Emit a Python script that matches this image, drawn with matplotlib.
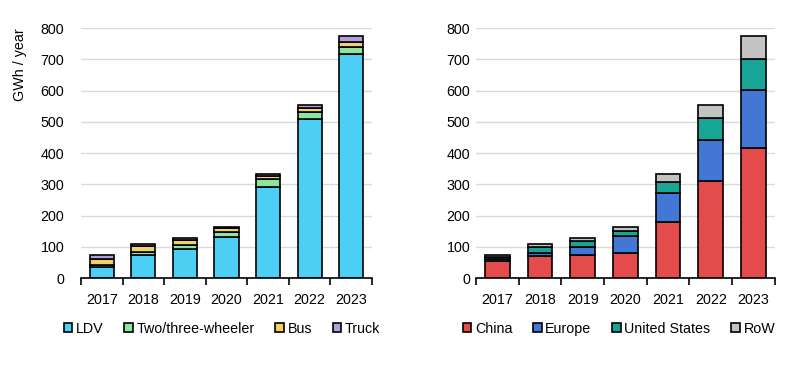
import matplotlib.pyplot as plt
import numpy as np

plt.rcParams['font.family'] = ['Liberation Sans', 'DejaVu Sans']

years = ["2017", "2018", "2019", "2020", "2021", "2022", "2023"]

# left panel: by vehicle segment (GWh / year)
ldv = [36, 73, 94, 130, 292, 510, 717]
two_three = [6, 9, 13, 16, 25, 22, 22]
bus = [18, 20, 16, 13, 10, 12, 16]
truck = [15, 8, 5, 5, 5, 10, 18]

# right panel: by region (GWh / year)
china = [54, 70, 75, 80, 178, 312, 417]
europe = [8, 10, 24, 54, 93, 130, 185]
united_states = [6, 19, 20, 16, 35, 71, 98]
row = [7, 11, 9, 14, 26, 41, 73]

left_series = [("LDV", ldv, "#4dcff5"),
               ("Two/three-wheeler", two_three, "#8de5a0"),
               ("Bus", bus, "#f3d167"),
               ("Truck", truck, "#b39fe0")]
right_series = [("China", china, "#e44b4b"),
                ("Europe", europe, "#4277d6"),
                ("United States", united_states, "#17a596"),
                ("RoW", row, "#c3c3c3")]

fig = plt.figure(figsize=(8.08, 3.70), dpi=100)
ax1 = fig.add_axes([0.1002, 0.2486, 0.3602, 0.6757])
ax2 = fig.add_axes([0.589, 0.2486, 0.370, 0.6757])

x = np.arange(len(years))
fs = 10.3


def draw(ax, series, pad):
    bottom = np.zeros(len(years))
    handles = []
    for name, vals, col in series:
        h = ax.bar(x, vals, 0.58, bottom=bottom, color=col,
                   edgecolor="black", linewidth=1.2, label=name, zorder=3)
        bottom += np.array(vals)
        handles.append(h)
    ax.set_ylim(0, 800)
    ax.set_xlim(-0.5, len(years) - 0.5)
    ax.set_yticks(range(0, 801, 100))
    ax.yaxis.grid(True, color="#d9d9d9", linewidth=1.0, zorder=0)
    ax.set_axisbelow(True)
    for s in ["left", "right", "top"]:
        ax.spines[s].set_visible(False)
    ax.spines["bottom"].set_linewidth(1.2)
    ax.spines["bottom"].set_zorder(4)
    ax.set_xticks(x)
    ax.set_xticklabels(years, fontsize=fs)
    ax.set_xticks(np.arange(-0.5, len(years)), minor=True)
    ax.tick_params(axis="x", which="major", length=0, pad=11)
    ax.tick_params(axis="x", which="minor", length=5, width=1.2,
                   direction="out")
    ax.tick_params(axis="y", length=0, labelsize=fs, pad=pad)
    return handles


h1 = draw(ax1, left_series, 12)
h2 = draw(ax2, right_series, 4)

ax1.set_ylabel("GWh / year", fontsize=fs, loc="top")
ax1.yaxis.set_label_coords(-0.185, 1.0)

leg_kw = dict(loc="center", ncol=4, frameon=False, fontsize=fs,
              handlelength=0.6, handleheight=0.6, handletextpad=0.25,
              columnspacing=1.45, borderaxespad=0)
fig.legend(h1, [s[0] for s in left_series],
           bbox_to_anchor=(222 / 808, 1 - 329 / 370), **leg_kw)
fig.legend(h2, [s[0] for s in right_series],
           bbox_to_anchor=(619 / 808, 1 - 329 / 370), **leg_kw)

fig.savefig("out.png", dpi=100)
